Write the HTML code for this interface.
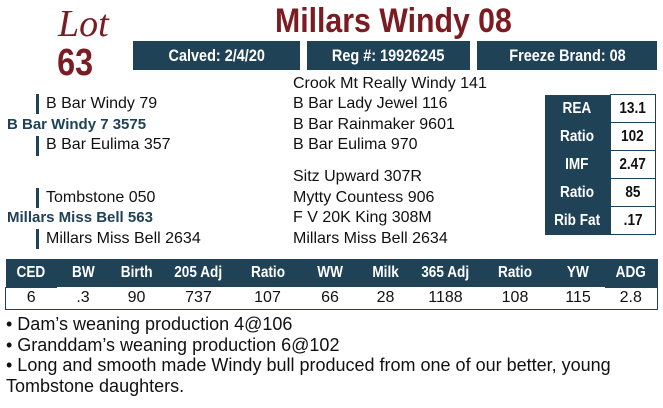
<!DOCTYPE html>
<html><head><meta charset="utf-8"><style>
body{margin:0;width:663px;height:408px;background:#fff;position:relative;overflow:hidden;font-family:"Liberation Sans",sans-serif;color:#111}
.a{position:absolute;white-space:nowrap}
.n{font-family:"Liberation Sans",sans-serif;font-weight:bold}
.c{display:inline-block;transform:scaleX(.85);transform-origin:center}
.bar{position:absolute;background:#1f4257;color:#fff;font-size:17px;text-align:center;line-height:29px}
.p{font-size:16px;line-height:20px}
.vb{position:absolute;width:3px;background:#1f4257}
.sire{color:#1f4257;font-size:15px}
table{border-collapse:collapse;position:absolute;table-layout:fixed}
td{padding:0}
.note{position:absolute;left:6px;font-size:18px;line-height:20px;white-space:nowrap}
</style></head><body>
<div class="a" style="left:58px;top:2px;font-family:'Liberation Serif',serif;font-style:italic;font-size:38px;color:#7a1c22">Lot</div>
<div class="a n" style="left:54px;top:42px;font-size:38px;color:#7a1c22"><span class="c">63</span></div>
<div class="a n" style="left:275px;top:2px;font-size:34px;color:#7a1c22;transform:scaleX(.89);transform-origin:left">Millars Windy 08</div>
<div class="bar n" style="left:133px;top:41px;width:167px"><span class="c">Calved: 2/4/20</span></div>
<div class="bar n" style="left:307px;top:41px;width:163px"><span class="c">Reg #: 19926245</span></div>
<div class="bar n" style="left:477px;top:41px;width:180px"><span class="c">Freeze Brand: 08</span></div>

<div class="a p" style="left:293px;top:74px">Crook Mt Really Windy 141</div>
<div class="a p" style="left:293px;top:94px">B Bar Lady Jewel 116</div>
<div class="a p" style="left:293px;top:115px">B Bar Rainmaker 9601</div>
<div class="a p" style="left:293px;top:135px">B Bar Eulima 970</div>
<div class="a p" style="left:293px;top:167px">Sitz Upward 307R</div>
<div class="a p" style="left:293px;top:188px">Mytty Countess 906</div>
<div class="a p" style="left:293px;top:208px">F V 20K King 308M</div>
<div class="a p" style="left:293px;top:229px">Millars Miss Bell 2634</div>

<div class="vb" style="left:36px;top:94px;height:20px"></div>
<div class="a p" style="left:46px;top:94px">B Bar Windy 79</div>
<div class="a n sire" style="left:7px;top:116px">B Bar Windy 7 3575</div>
<div class="vb" style="left:36px;top:136px;height:20px"></div>
<div class="a p" style="left:46px;top:135px">B Bar Eulima 357</div>
<div class="vb" style="left:36px;top:188px;height:20px"></div>
<div class="a p" style="left:46px;top:188px">Tombstone 050</div>
<div class="a n sire" style="left:7px;top:209px">Millars Miss Bell 563</div>
<div class="vb" style="left:36px;top:229px;height:20px"></div>
<div class="a p" style="left:46px;top:229px">Millars Miss Bell 2634</div>

<table style="left:545px;top:94px;width:111px;font-size:16px">
<col style="width:65px"><col>
<tbody class="n">
<tr style="height:28px"><td style="background:#1f4257;color:#fff;text-align:center"><span class="c">REA</span></td><td style="border:1px solid #1f4257;text-align:center"><span class="c">13.1</span></td></tr>
<tr style="height:28px"><td style="background:#1f4257;color:#fff;text-align:center"><span class="c">Ratio</span></td><td style="border:1px solid #1f4257;text-align:center"><span class="c">102</span></td></tr>
<tr style="height:28px"><td style="background:#1f4257;color:#fff;text-align:center"><span class="c">IMF</span></td><td style="border:1px solid #1f4257;text-align:center"><span class="c">2.47</span></td></tr>
<tr style="height:28px"><td style="background:#1f4257;color:#fff;text-align:center"><span class="c">Ratio</span></td><td style="border:1px solid #1f4257;text-align:center"><span class="c">85</span></td></tr>
<tr style="height:28px"><td style="background:#1f4257;color:#fff;text-align:center"><span class="c">Rib Fat</span></td><td style="border:1px solid #1f4257;text-align:center"><span class="c">.17</span></td></tr>
</tbody></table>

<table style="left:5px;top:259px;width:652px;font-size:16px;text-align:center">
<col style="width:51px"><col style="width:53px"><col style="width:54px"><col style="width:70px"><col style="width:68px"><col style="width:57px"><col style="width:54px"><col style="width:66px"><col style="width:73px"><col style="width:53px"><col style="width:53px">
<tr class="n" style="height:28px;background:#1f4257;color:#fff"><td><span class="c">CED</span></td><td><span class="c">BW</span></td><td><span class="c">Birth</span></td><td><span class="c">205 Adj</span></td><td><span class="c">Ratio</span></td><td><span class="c">WW</span></td><td><span class="c">Milk</span></td><td><span class="c">365 Adj</span></td><td><span class="c">Ratio</span></td><td><span class="c">YW</span></td><td><span class="c">ADG</span></td></tr>
<tr style="height:22px"><td style="border:1px solid #1f4257;border-right:0">6</td><td style="border-bottom:1px solid #1f4257">.3</td><td style="border-bottom:1px solid #1f4257">90</td><td style="border-bottom:1px solid #1f4257">737</td><td style="border-bottom:1px solid #1f4257">107</td><td style="border-bottom:1px solid #1f4257">66</td><td style="border-bottom:1px solid #1f4257">28</td><td style="border-bottom:1px solid #1f4257">1188</td><td style="border-bottom:1px solid #1f4257">108</td><td style="border-bottom:1px solid #1f4257">115</td><td style="border:1px solid #1f4257;border-left:0">2.8</td></tr>
</table>

<div class="note" style="top:314px">• Dam’s weaning production 4@106</div>
<div class="note" style="top:335px">• Granddam’s weaning production 6@102</div>
<div class="note" style="top:355px">• Long and smooth made Windy bull produced from one of our better, young</div>
<div class="note" style="top:376px">Tombstone daughters.</div>
</body></html>
